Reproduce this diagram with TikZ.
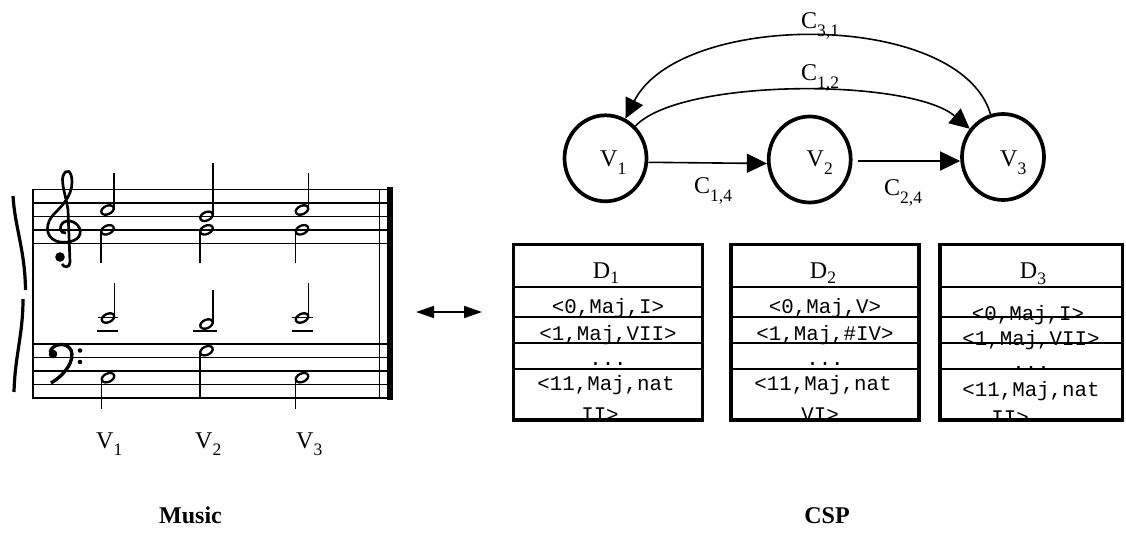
\documentclass[tikz,border=0pt]{standalone}
\usepackage{fontspec}
\setmainfont{Liberation Serif}
\setmonofont{Liberation Mono}
\usetikzlibrary{arrows.meta}
\usetikzlibrary{shapes.geometric}

\newcommand{\subidx}[2][8pt]{\raisebox{-#1}{\fontsize{17.5}{17.5}\selectfont #2}}
\newcommand{\nhead}[2]{\draw[head] (#1,#2) ellipse [x radius=6.6, y radius=4.2, rotate=25];}

\begin{document}
\begin{tikzpicture}[x=1pt,y=-1pt,
  staffline/.style={line width=1.5pt},
  stem/.style={line width=1.6pt},
  head/.style={line width=2.3pt},
  var/.style={draw,ellipse,line width=3.7pt,minimum width=82pt,minimum height=86pt,inner sep=0pt},
  lab/.style={font=\fontsize{24}{24}\selectfont,inner sep=0pt,anchor=base west},
  arr/.style={line width=1.6pt,-{Triangle[length=20pt,width=19pt]}},
  dombox/.style={line width=3.6pt},
  rowline/.style={line width=1.7pt},
  val/.style={font=\ttfamily\fontsize{20.8}{20.8}\selectfont,inner sep=0pt,anchor=base},
  title/.style={font=\bfseries\fontsize{24}{24}\selectfont,inner sep=0pt,anchor=base}]
\useasboundingbox (0,0) rectangle (1126,535);

% the score
\foreach \y in {189.3,202.8,216.3,229.8,243.3,344,357.5,371,384.5,398}
  \draw[staffline] (33,\y) -- (388,\y);
\draw[staffline] (33,188.6) -- (33,398.7);
\draw[staffline] (379.5,188.6) -- (379.5,398.7);
\fill (386.7,187) rectangle (392.7,399.5);

% brace
\draw[line width=3.2pt] (13,196) .. controls (15,228) and (25,250) .. (25.5,290);
\draw[line width=3.2pt] (23,299) .. controls (23,335) and (15,355) .. (14,392);

% treble clef
\draw[line width=2.7pt] (66,233) .. controls (60,234) and (58,226) .. (64,222)
  .. controls (72,218) and (82,226) .. (80,234)
  .. controls (78,242) and (64,244) .. (56,241)
  .. controls (44,236) and (46,222) .. (54,214)
  .. controls (62,206) and (72,196) .. (72,182)
  .. controls (72,170) and (66,168) .. (63,176)
  .. controls (61,184) and (66,196) .. (68,210)
  -- (70,262) .. controls (70,268) and (64,268) .. (62,264);
\fill (60,257) circle (4.8);

% bass clef
\fill (53,354) circle (4.3);
\draw[line width=3.3pt] (50,352) .. controls (52,344) and (66,341) .. (71,350)
  .. controls (75,360) and (66,374) .. (51,383);
\fill (80,350.5) circle (2.3);
\fill (80,362) circle (2.3);

% upper voices
\nhead{107.5}{210} \draw[stem] (114,210) -- (114,173);
\nhead{107.5}{229.8} \draw[stem] (101,229.8) -- (101,262.7);
\nhead{206.5}{216.3} \draw[stem] (213,216.3) -- (213,163);
\nhead{206.5}{229.8} \draw[stem] (200,229.8) -- (200,262.7);
\nhead{302}{210} \draw[stem] (308.5,210) -- (308.5,173);
\nhead{302}{229.8} \draw[stem] (295.5,229.8) -- (295.5,262.7);

% tenor
\draw[staffline] (97,331) -- (118,331);
\draw[staffline] (98,317.5) -- (118,317.5);
\nhead{108}{318} \draw[stem] (114.5,318) -- (114.5,282.7);
\draw[staffline] (193,331) -- (217,331);
\nhead{206.5}{324} \draw[stem] (213,324) -- (213,290);
\draw[staffline] (292,331) -- (313,331);
\draw[staffline] (292,317.5) -- (313,317.5);
\nhead{302}{318} \draw[stem] (308.5,318) -- (308.5,282.7);

% bass
\nhead{108}{377.7} \draw[stem] (101.5,377.7) -- (101.5,409.3);
\nhead{206.5}{350.7} \draw[stem] (200,350.7) -- (200,398);
\nhead{302}{377.7} \draw[stem] (295.5,377.7) -- (295.5,409.3);

\node[lab] (m1) at (96,448) {V\subidx[7pt]{1}};
\node[lab] (m2) at (195,448) {V\subidx[7pt]{2}};
\node[lab] (m3) at (296,448) {V\subidx[7pt]{3}};

% music <-> csp
\coordinate (musR) at (416,312);
\coordinate (cspL) at (482,312);
\draw[line width=1.6pt,{Triangle[length=18pt,width=12pt]}-{Triangle[length=18pt,width=12pt]}] (musR) -- (cspL);

% constraint graph
\node[var] (v1) at (605.5,158.3) {};
\node[var] (v2) at (809.7,159.5) {};
\node[var] (v3) at (1003,157) {};
\node[lab] (v1l) at (600,166.7) {V\subidx{1}};
\node[lab] (v2l) at (806.5,166.7) {V\subidx{2}};
\node[lab] (v3l) at (1000,166.7) {V\subidx{3}};

\draw[arr] ([yshift=-4pt]v1.east) -- ([yshift=-4pt]v2.west);
\draw[arr] ([xshift=5pt,yshift=-1.5pt]v2.east) -- ([yshift=-4pt]v3.west);
\draw[arr] (v1) .. controls (680,78) and (910,78) .. (v3);
\draw[arr] (v3) .. controls (960,10) and (680,10) .. (v1);

\node[lab] (c31) at (801,28.3) {C\subidx{3,1}};
\node[lab] (c12) at (801,80) {C\subidx{1,2}};
\node[lab] (c14) at (694,193) {C\subidx{1,4}};
\node[lab] (c24) at (884,195) {C\subidx{2,4}};

% domains
\begin{scope}
\clip (513.4,244.4) rectangle (702.3,420);
\node[lab,anchor=base] (d1) at (606,278.3) {D\subidx[5pt]{1}};
\node[val] (d1a) at (608,313.3) {<0,Maj,I>};
\node[val] (d1b) at (608,340.3) {<1,Maj,VII>};
\node[val] (d1c) at (608,365) {...};
\node[val] (d1d) at (606,390) {<11,Maj,nat};
\node[val] (d1e) at (600,421) {II>};
\end{scope}
\foreach \y in {286.7,317.3,343.3,369.3}
  \draw[rowline] (513.4,\y) -- (702.3,\y);
\draw[dombox] (513.4,244.4) rectangle (702.3,420);

\begin{scope}
\clip (731,244.4) rectangle (919,420);
\node[lab,anchor=base] (d2) at (823,278.3) {D\subidx[5pt]{2}};
\node[val] (d2a) at (825,313.3) {<0,Maj,V>};
\node[val] (d2b) at (825,340.3) {<1,Maj,\#IV>};
\node[val] (d2c) at (825,365) {...};
\node[val] (d2d) at (823,390) {<11,Maj,nat};
\node[val] (d2e) at (820,421) {VI>};
\end{scope}
\foreach \y in {286.7,317.3,343.3,369.3}
  \draw[rowline] (731,\y) -- (919,\y);
\draw[dombox] (731,244.4) rectangle (919,420);

\begin{scope}
\clip (940,244.4) rectangle (1122.5,420);
\node[lab,anchor=base] (d3) at (1033,278.3) {D\subidx[6pt]{3}};
\node[val] (d3a) at (1028,320) {<0,Maj,I>};
\node[val] (d3b) at (1031,345.5) {<1,Maj,VII>};
\node[val] (d3c) at (1031,369) {...};
\node[val] (d3d) at (1031,396) {<11,Maj,nat};
\node[val] (d3e) at (1010,424) {II>};
\end{scope}
\foreach \y in {286.7,317.3,343.3,369.3}
  \draw[rowline] (940,\y) -- (1122.5,\y);
\draw[dombox] (940,244.4) rectangle (1122.5,420);

\node[title] (music) at (190.5,523) {Music};
\node[title] (csp) at (827,523) {CSP};
\end{tikzpicture}
\end{document}
